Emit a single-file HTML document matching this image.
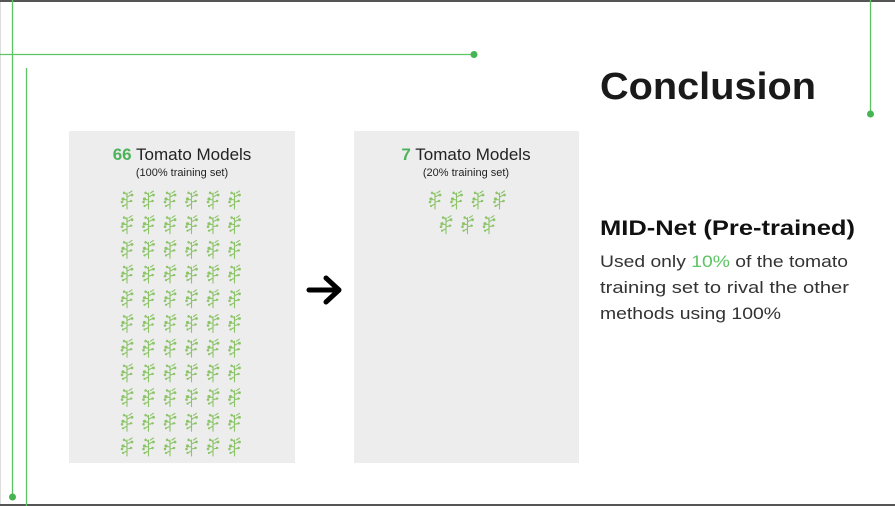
<!DOCTYPE html>
<html><head><meta charset="utf-8"><style>
html,body{margin:0;padding:0;background:#fff;}
svg{display:block;font-family:"Liberation Sans",sans-serif;}
</style></head><body>
<svg width="895" height="506" viewBox="0 0 895 506" xmlns="http://www.w3.org/2000/svg">
<defs>
<g id="p" fill="none" stroke="#8cc468" stroke-width="1.1" stroke-linecap="round">
  <path d="M8 19 L8 3"/>
  <path d="M8 14 L4 16 M8 10 L3 9 M8 7 L12 5 M8 12 L13 11 M8 5 L5 2 M10 3 L13 1"/>
  <circle cx="4" cy="9" r="1.6" fill="#8cc468" stroke="none"/>
  <circle cx="3" cy="12" r="1.3" fill="#8cc468" stroke="none"/>
  <circle cx="13" cy="5" r="1.4" fill="#8cc468" stroke="none"/>
  <circle cx="5" cy="3" r="1.2" fill="#8cc468" stroke="none"/>
  <circle cx="12" cy="11" r="1.2" fill="#8cc468" stroke="none"/>
  <circle cx="4" cy="16" r="1.1" fill="#8cc468" stroke="none"/>
</g>
</defs>
<rect x="0" y="0" width="895" height="506" fill="#fff"/>
<rect x="0" y="0" width="1" height="506" fill="#ddd"/>
<rect x="0" y="0" width="895" height="2" fill="#555"/>
<rect x="0" y="504" width="895" height="2" fill="#555"/>
<g stroke="#5cc464" stroke-width="1.3">
  <line x1="12.5" y1="0" x2="12.5" y2="496"/>
  <line x1="0" y1="54.5" x2="474" y2="54.5"/>
  <line x1="26.5" y1="68" x2="26.5" y2="506"/>
  <line x1="870.5" y1="0" x2="870.5" y2="114"/>
</g>
<g fill="#46b452">
  <circle cx="12.5" cy="497" r="3.5"/>
  <circle cx="474" cy="54.5" r="3.5"/>
  <circle cx="870.5" cy="114" r="3.5"/>
</g>
<rect x="69" y="131" width="226" height="332" fill="#ededed"/>
<rect x="354" y="131" width="225" height="332" fill="#ededed"/>
<text x="182" y="160" font-size="17" text-anchor="middle" fill="#222"><tspan font-weight="bold" fill="#4db35a">66</tspan> Tomato Models</text>
<text x="182" y="176" font-size="11" text-anchor="middle" fill="#222">(100% training set)</text>
<text x="466" y="160" font-size="17" text-anchor="middle" fill="#222"><tspan font-weight="bold" fill="#4db35a">7</tspan> Tomato Models</text>
<text x="466" y="176" font-size="11" text-anchor="middle" fill="#222">(20% training set)</text>
<g id="grid">
<g id="row">
<use href="#p" x="119" y="190"/><use href="#p" x="140.5" y="190"/><use href="#p" x="162" y="190"/><use href="#p" x="183.5" y="190"/><use href="#p" x="205" y="190"/><use href="#p" x="226.5" y="190"/>
</g>
<use href="#row" y="24.7"/><use href="#row" y="49.4"/><use href="#row" y="74.1"/><use href="#row" y="98.8"/><use href="#row" y="123.5"/><use href="#row" y="148.2"/><use href="#row" y="172.9"/><use href="#row" y="197.6"/><use href="#row" y="222.3"/><use href="#row" y="247"/>
</g>
<use href="#p" x="427" y="190"/><use href="#p" x="448.5" y="190"/><use href="#p" x="470" y="190"/><use href="#p" x="491.5" y="190"/>
<use href="#p" x="438" y="214.7"/><use href="#p" x="459.5" y="214.7"/><use href="#p" x="481" y="214.7"/>
<g stroke="#000" stroke-width="5" fill="none" stroke-linecap="round" stroke-linejoin="round">
  <line x1="309" y1="290" x2="338" y2="290"/>
  <polyline points="326,278 339,290 326,302"/>
</g>
<text x="600" y="99" font-size="38" font-weight="bold" fill="#1a1a1a" textLength="216" lengthAdjust="spacingAndGlyphs">Conclusion</text>
<text x="600" y="235" font-size="21" font-weight="bold" fill="#111" textLength="255" lengthAdjust="spacingAndGlyphs">MID-Net (Pre-trained)</text>
<g font-size="16.5" fill="#333">
<text x="600" y="267" textLength="248" lengthAdjust="spacingAndGlyphs">Used only <tspan fill="#5cc464">10%</tspan> of the tomato</text>
<text x="600" y="293" textLength="249" lengthAdjust="spacingAndGlyphs">training set to rival the other</text>
<text x="600" y="319" textLength="181" lengthAdjust="spacingAndGlyphs">methods using 100%</text>
</g>
</svg>
</body></html>
